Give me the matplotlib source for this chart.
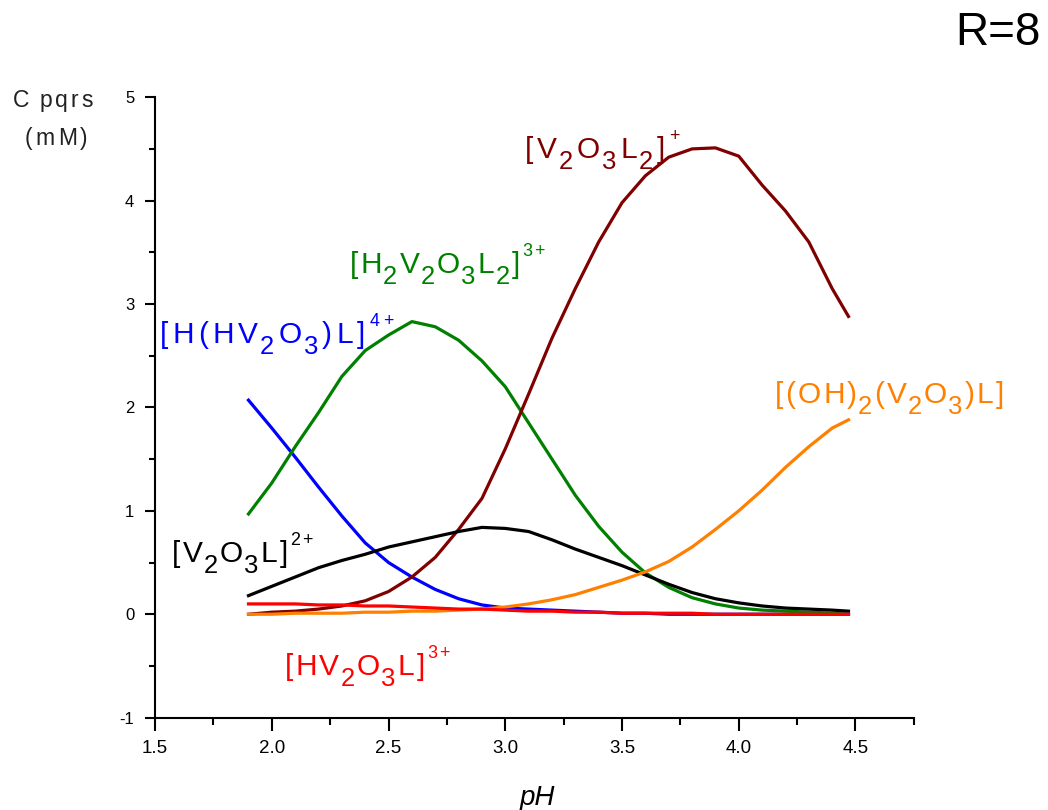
import numpy as np
from matplotlib import pyplot as plt
from matplotlib.ticker import MultipleLocator

plt.rcParams['font.family'] = ['Liberation Sans', 'DejaVu Sans']
plt.rcParams['axes.unicode_minus'] = False

# pH values for the species curves
ph = [1.9, 2.0, 2.1, 2.2, 2.3, 2.4, 2.5, 2.6, 2.7, 2.8, 2.9, 3.0, 3.1, 3.2, 3.3,
      3.4, 3.5, 3.6, 3.7, 3.8, 3.9, 4.0, 4.1, 4.2, 4.3, 4.4, 4.47]

# concentrations (mM)
h_hv2o3_l = [2.07, 1.8, 1.52, 1.23, 0.95, 0.69, 0.5, 0.36, 0.24, 0.15, 0.09, 0.06, 0.05, 0.04, 0.03,
             0.02, 0.01, 0.01, 0.0, 0.0, 0.0, 0.0, 0.0, 0.0, 0.0, 0.0, 0.0]
h2v2o3l2 = [0.97, 1.27, 1.62, 1.95, 2.3, 2.55, 2.7, 2.83, 2.78, 2.65, 2.45, 2.2, 1.85, 1.5, 1.15,
            0.85, 0.6, 0.4, 0.26, 0.16, 0.1, 0.06, 0.04, 0.03, 0.02, 0.01, 0.0]
v2o3l2 = [0.0, 0.02, 0.03, 0.05, 0.08, 0.13, 0.22, 0.36, 0.55, 0.82, 1.12, 1.6, 2.13, 2.67, 3.15,
          3.6, 3.98, 4.24, 4.42, 4.5, 4.51, 4.43, 4.15, 3.9, 3.6, 3.15, 2.88]
v2o3l = [0.18, 0.27, 0.36, 0.45, 0.52, 0.58, 0.65, 0.7, 0.75, 0.8, 0.84, 0.83, 0.8, 0.72, 0.63,
         0.55, 0.47, 0.38, 0.29, 0.21, 0.15, 0.11, 0.08, 0.06, 0.05, 0.04, 0.03]
oh2_v2o3_l = [0.0, 0.0, 0.01, 0.01, 0.01, 0.02, 0.02, 0.03, 0.03, 0.04, 0.05, 0.07, 0.1, 0.14, 0.19,
              0.26, 0.33, 0.41, 0.51, 0.65, 0.82, 1.0, 1.2, 1.42, 1.62, 1.8, 1.88]
hv2o3l = [0.1, 0.1, 0.1, 0.09, 0.09, 0.08, 0.08, 0.07, 0.06, 0.05, 0.05, 0.04, 0.03, 0.03, 0.02,
          0.02, 0.01, 0.01, 0.01, 0.01, 0.0, 0.0, 0.0, 0.0, 0.0, 0.0, 0.0]

W, H = 1048, 810
plt.close('all')
fig = plt.figure(figsize=(W / 100, H / 100), dpi=100)
ax = fig.add_axes([0.148, 0.114, 0.724, 0.766])

lw = 2.3
ax.plot(ph, h_hv2o3_l, color='#0000FF', lw=lw)
ax.plot(ph, h2v2o3l2, color='#008000', lw=lw)
ax.plot(ph, v2o3l2, color='#800000', lw=lw)
ax.plot(ph, v2o3l, color='black', lw=lw)
ax.plot(ph, oh2_v2o3_l, color='#FF8000', lw=lw)
ax.plot(ph, hv2o3l, color='#FF0000', lw=lw)

ax.set_xlim(1.5, 4.75)
ax.set_ylim(-1, 5)
ax.xaxis.set_major_locator(MultipleLocator(0.5))
ax.xaxis.set_minor_locator(MultipleLocator(0.25))
ax.yaxis.set_major_locator(MultipleLocator(1))
ax.yaxis.set_minor_locator(MultipleLocator(0.5))
ax.xaxis.set_major_formatter(plt.FormatStrFormatter('%.1f'))
ax.spines['top'].set_visible(False)
ax.spines['right'].set_visible(False)
ax.spines['left'].set_linewidth(1.5)
ax.spines['bottom'].set_linewidth(1.5)
ax.tick_params(axis='x', which='major', direction='out', length=9, width=1.5, labelsize=13.5, pad=7)
ax.tick_params(axis='x', which='minor', direction='out', length=5, width=1.5)
ax.tick_params(axis='y', which='major', direction='out', length=7, width=1.5, labelsize=12, pad=8)
ax.tick_params(axis='y', which='minor', direction='out', length=4, width=1.5)


# letter-spaced text with near full-size subscripts and small superscripts,
# x, y are the left edge and baseline in pixels from the top-left corner
def chem(x, y, pieces, color, fs=21.5, track=1.6):
    prev = None
    extra = 0
    for s, kind in pieces:
        size = {'': fs, 'sub': fs * 0.86, 'sup': fs * 0.6}[kind]
        dy = {'': 0, 'sub': -8.0 * fs / 22, 'sup': 12.7 * fs / 22}[kind]
        for ch in s:
            if ch == ' ':
                extra += fs * 0.3
                continue
            if prev is None:
                prev = ax.annotate(ch, xy=(x, H - y), xycoords='figure pixels',
                                   xytext=(0, dy), textcoords='offset points',
                                   fontsize=size, color=color, va='baseline',
                                   annotation_clip=False)
            else:
                gap = track * 0.5 if kind == 'sub' else track
                prev = ax.annotate(ch, xy=(1, H - y), xycoords=(prev, 'figure pixels'),
                                   xytext=(gap + extra, dy), textcoords='offset points',
                                   fontsize=size, color=color, va='baseline',
                                   annotation_clip=False)
            extra = 0


chem(160, 343, [('[H(HV', ''), ('2', 'sub'), ('O', ''), ('3', 'sub'), (')L]', ''),
                ('4+', 'sup')], '#0000FF', track=3.0)
chem(350, 273, [('[H', ''), ('2', 'sub'), ('V', ''), ('2', 'sub'), ('O', ''), ('3', 'sub'),
                ('L', ''), ('2', 'sub'), (']', ''), ('3+', 'sup')], '#008000')
chem(525, 158, [('[V', ''), ('2', 'sub'), ('O', ''), ('3', 'sub'), ('L', ''), ('2', 'sub'),
                (']', ''), ('+', 'sup')], '#800000', track=2.8)
chem(775, 403, [('[(OH)', ''), ('2', 'sub'), ('(V', ''), ('2', 'sub'), ('O', ''), ('3', 'sub'),
                (')L]', '')], '#FF8000')
chem(172, 562, [('[V', ''), ('2', 'sub'), ('O', ''), ('3', 'sub'), ('L]', ''),
                ('2+', 'sup')], 'black')
chem(285, 675, [('[HV', ''), ('2', 'sub'), ('O', ''), ('3', 'sub'), ('L]', ''),
                ('3+', 'sup')], '#FF0000')

chem(13, 107, [('C pqrs', '')], '#222222', fs=16.5, track=2.2)
chem(25, 145, [('(mM)', '')], '#222222', fs=16.5, track=2.2)

fig.text(998 / W, 1 - 33 / H, 'R=8', fontsize=33, ha='center', va='center')
fig.text(537 / W, 1 - 805 / H, 'pH', fontsize=20, fontstyle='italic', ha='center', va='baseline')

plt.savefig('out.png')
